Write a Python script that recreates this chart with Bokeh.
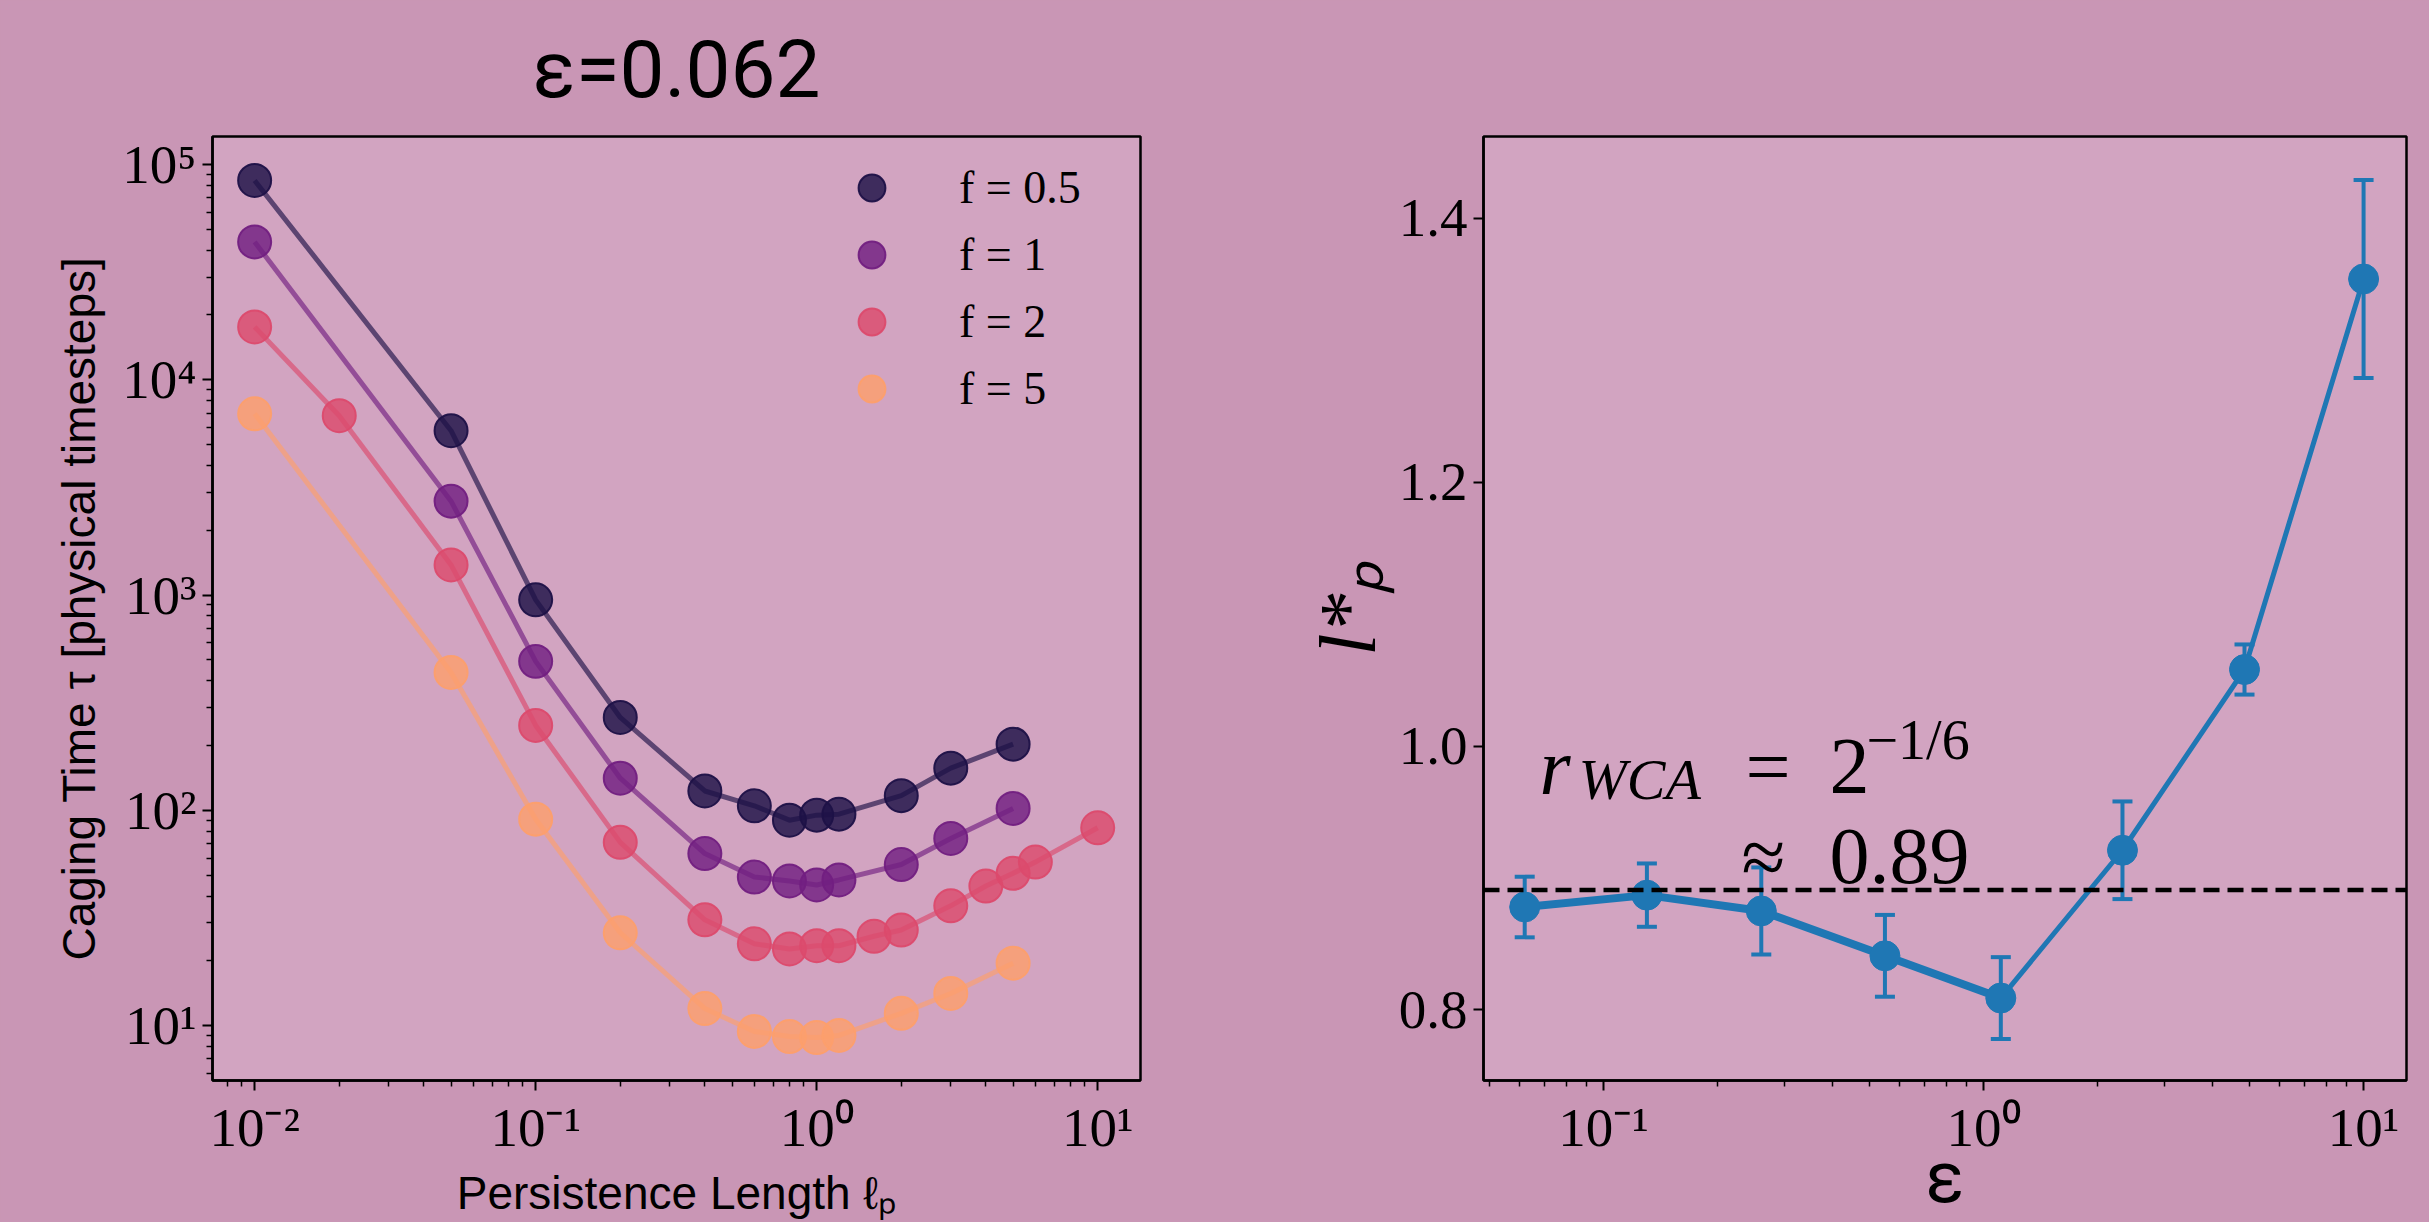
from bokeh.plotting import figure
from bokeh.layouts import row
from bokeh.models import (ColumnDataSource, Legend, LegendItem, Label, Span, Whisker, TeeHead,
                          FixedTicker, CustomJSTickFormatter, PrintfTickFormatter, Range1d)
from bokeh.embed import file_html
from bokeh.resources import INLINE

# ---------------- data: left panel (caging time vs persistence length) ----------------
lp_f05 = [0.01, 0.05, 0.1, 0.2, 0.4, 0.6, 0.8, 1.0, 1.2, 2, 3, 5]
tau_f05 = [84300, 5800, 950, 270, 123, 105, 90, 95, 96, 117, 157, 203]
lp_f1 = [0.01, 0.05, 0.1, 0.2, 0.4, 0.6, 0.8, 1.0, 1.2, 2, 3, 5]
tau_f1 = [43700, 2730, 492, 141, 63, 49, 47, 45, 47.5, 56, 74, 102]
lp_f2 = [0.01, 0.02, 0.05, 0.1, 0.2, 0.4, 0.6, 0.8, 1.0, 1.2, 1.6, 2, 3, 4, 5, 6, 10]
tau_f2 = [17600, 6810, 1380, 248, 71, 31, 24, 22.7, 23.5, 23.5, 26, 27.8, 36, 44.5, 51, 57.5, 83]
lp_f5 = [0.01, 0.05, 0.1, 0.2, 0.4, 0.6, 0.8, 1.0, 1.2, 2, 3, 5]
tau_f5 = [6950, 437, 91, 27, 12, 9.4, 8.9, 8.8, 9.0, 11.4, 14.1, 19.5]
series_labels = ["f = 0.5", "f = 1", "f = 2", "f = 5"]

# ---------------- data: right panel (l*_p vs epsilon) ----------------
eps = [0.062, 0.13, 0.26, 0.55, 1.11, 2.32, 4.86, 10.0]
lstar = [0.878, 0.887, 0.875, 0.841, 0.809, 0.921, 1.058, 1.354]
lstar_err = [0.023, 0.024, 0.033, 0.031, 0.031, 0.037, 0.019, 0.075]
r_wca = 0.8909
title_text = "ε=0.062"

# ---------------- styling ----------------
OUTER = "#c996b5"
INNER = "#d2a4c1"
colors = ["#1d1147", "#721f81", "#dc4a6d", "#fd9f6c"]
BLUE = "#1f77b4"
SERIF = "Liberation Serif"
SANS = "Liberation Sans"

sup_js = """
const e = Math.round(Math.log10(tick));
const sup = {"-":"\u207b","0":"\u2070","1":"\u00b9","2":"\u00b2","3":"\u00b3","4":"\u2074","5":"\u2075","6":"\u2076","7":"\u2077","8":"\u2078","9":"\u2079"};
return "10" + String(e).split("").map(c => sup[c]).join("");
"""


def style_axes(p):
    for ax in p.axis:
        ax.major_label_text_font = SERIF
        ax.major_label_text_font_size = "55px"
        ax.major_label_text_color = "black"
        ax.axis_label_text_color = "black"
        ax.major_tick_out = 10
        ax.major_tick_in = 0
        ax.minor_tick_out = 6
        ax.minor_tick_in = 0
        ax.major_tick_line_width = 2
        ax.minor_tick_line_width = 1.5
        ax.axis_line_width = 2.5
        ax.axis_line_color = "black"
        ax.major_label_standoff = 6
    p.xgrid.visible = False
    p.ygrid.visible = False
    p.outline_line_color = "black"
    p.outline_line_width = 2.5
    p.border_fill_color = OUTER
    p.background_fill_color = INNER


def log_minor(lo, hi):
    return [k * 10.0 ** e for e in range(lo, hi) for k in range(2, 10)]


# ---------------- left figure ----------------
p1 = figure(width=1300, height=1222, x_axis_type="log", y_axis_type="log",
            x_range=Range1d(0.00708, 14.2), y_range=Range1d(5.56, 134900),
            output_backend="svg", toolbar_location=None,
            min_border_left=212, min_border_right=160, min_border_top=135, min_border_bottom=142)
style_axes(p1)
p1.title.text = title_text
p1.title.text_font = "Roboto"
p1.title.text_font_size = "80px"
p1.title.text_font_style = "normal"
p1.title.text_color = "black"
p1.title.align = "center"
p1.title.standoff = 40

p1.xaxis.ticker = FixedTicker(ticks=[1e-2, 1e-1, 1, 10], minor_ticks=log_minor(-3, 2))
p1.yaxis.ticker = FixedTicker(ticks=[10, 100, 1e3, 1e4, 1e5], minor_ticks=log_minor(0, 6))
p1.xaxis.formatter = CustomJSTickFormatter(code=sup_js)
p1.yaxis.formatter = CustomJSTickFormatter(code=sup_js)
p1.xaxis.axis_label = "Persistence Length \u2113\u209a"
p1.yaxis.axis_label = "Caging Time \u03c4 [physical timesteps]"
for ax in (p1.xaxis[0], p1.yaxis[0]):
    ax.axis_label_text_font = SANS
    ax.axis_label_text_font_style = "normal"
    ax.axis_label_text_font_size = "46px"
p1.xaxis.axis_label_standoff = 6
p1.yaxis.axis_label_standoff = 14

xs_all = [lp_f05, lp_f1, lp_f2, lp_f5]
ys_all = [tau_f05, tau_f1, tau_f2, tau_f5]
items = []
for xs, ys, col, lab in zip(xs_all, ys_all, colors, series_labels):
    src = ColumnDataSource(dict(x=xs, y=ys))
    p1.line("x", "y", source=src, line_color=col, line_alpha=0.65, line_width=5)
for xs, ys, col, lab in zip(xs_all, ys_all, colors, series_labels):
    src = ColumnDataSource(dict(x=xs, y=ys))
    r = p1.scatter("x", "y", source=src, size=33, fill_color=col, fill_alpha=0.82,
                   line_color=col, line_alpha=0.95, line_width=2)
    items.append(LegendItem(label=lab, renderers=[r]))

legend = Legend(items=items, location=(626, 658), glyph_width=67, glyph_height=67,
                spacing=0, padding=0, margin=0, label_standoff=54,
                label_text_font=SERIF, label_text_font_size="46px", label_text_color="black",
                background_fill_alpha=0, border_line_color=None)
p1.add_layout(legend)

# ---------------- right figure ----------------
p2 = figure(width=1129, height=1222, x_axis_type="log",
            x_range=Range1d(0.0483, 12.97), y_range=Range1d(0.7465, 1.462),
            output_backend="svg", toolbar_location=None,
            min_border_left=182, min_border_right=23, min_border_top=136, min_border_bottom=141)
style_axes(p2)
p2.xaxis.ticker = FixedTicker(ticks=[1e-1, 1, 10], minor_ticks=log_minor(-2, 2))
p2.xaxis.formatter = CustomJSTickFormatter(code=sup_js)
p2.xaxis.axis_label = "\u03b5"
p2.xaxis.axis_label_text_font = "Roboto"
p2.xaxis.axis_label_text_font_style = "normal"
p2.xaxis.axis_label_text_font_size = "72px"
p2.xaxis.axis_label_standoff = -26
p2.yaxis.ticker = FixedTicker(ticks=[0.8, 1.0, 1.2, 1.4], minor_ticks=[])
p2.yaxis.formatter = PrintfTickFormatter(format="%.1f")
p2.yaxis.axis_label = "l*\u209a"
p2.yaxis.axis_label_text_font = SERIF
p2.yaxis.axis_label_text_font_style = "italic"
p2.yaxis.axis_label_text_font_size = "80px"
p2.yaxis.axis_label_standoff = 4

src2 = ColumnDataSource(dict(x=eps, y=lstar,
                             lo=[v - e for v, e in zip(lstar, lstar_err)],
                             hi=[v + e for v, e in zip(lstar, lstar_err)]))
src2a = ColumnDataSource(dict(x=eps[:5], y=lstar[:5]))

p2.add_layout(Span(location=r_wca, dimension="width", line_color="black",
                   line_width=4.5, line_dash="16 8"))
p2.line("x", "y", source=src2, line_color=BLUE, line_width=5)
p2.line("x", "y", source=src2a, line_color=BLUE, line_width=8)
wh = Whisker(source=src2, base="x", upper="hi", lower="lo", dimension="height",
             line_color=BLUE, line_width=4,
             upper_head=TeeHead(size=20, line_color=BLUE, line_width=4),
             lower_head=TeeHead(size=20, line_color=BLUE, line_width=4))
p2.add_layout(wh)
p2.scatter("x", "y", source=src2, size=30, fill_color=BLUE, line_color=BLUE)

# annotation: r_WCA = 2^{-1/6} ≈ 0.89 (screen units relative to frame bottom-left)
def add_text(p, x, y, txt, size, style="normal"):
    p.add_layout(Label(x=x, y=y, x_units="screen", y_units="screen", text=txt,
                       text_font=SERIF, text_font_size=size, text_font_style=style,
                       text_color="black", text_baseline="alphabetic", text_align="left"))

add_text(p2, 56, 314, "r", "80px", "italic")
add_text(p2, 95, 301, "WCA", "58px", "italic")
add_text(p2, 262, 314, "=", "80px")
add_text(p2, 346, 314, "2", "80px")
add_text(p2, 383, 341, "\u22121/6", "56px")
add_text(p2, 258, 224, "\u2248", "80px")
add_text(p2, 346, 224, "0.89", "80px")

layout = row(p1, p2, spacing=0, styles={"background-color": OUTER})
html = file_html(layout, INLINE, title="caging time")
open("out.html", "w").write(html)
